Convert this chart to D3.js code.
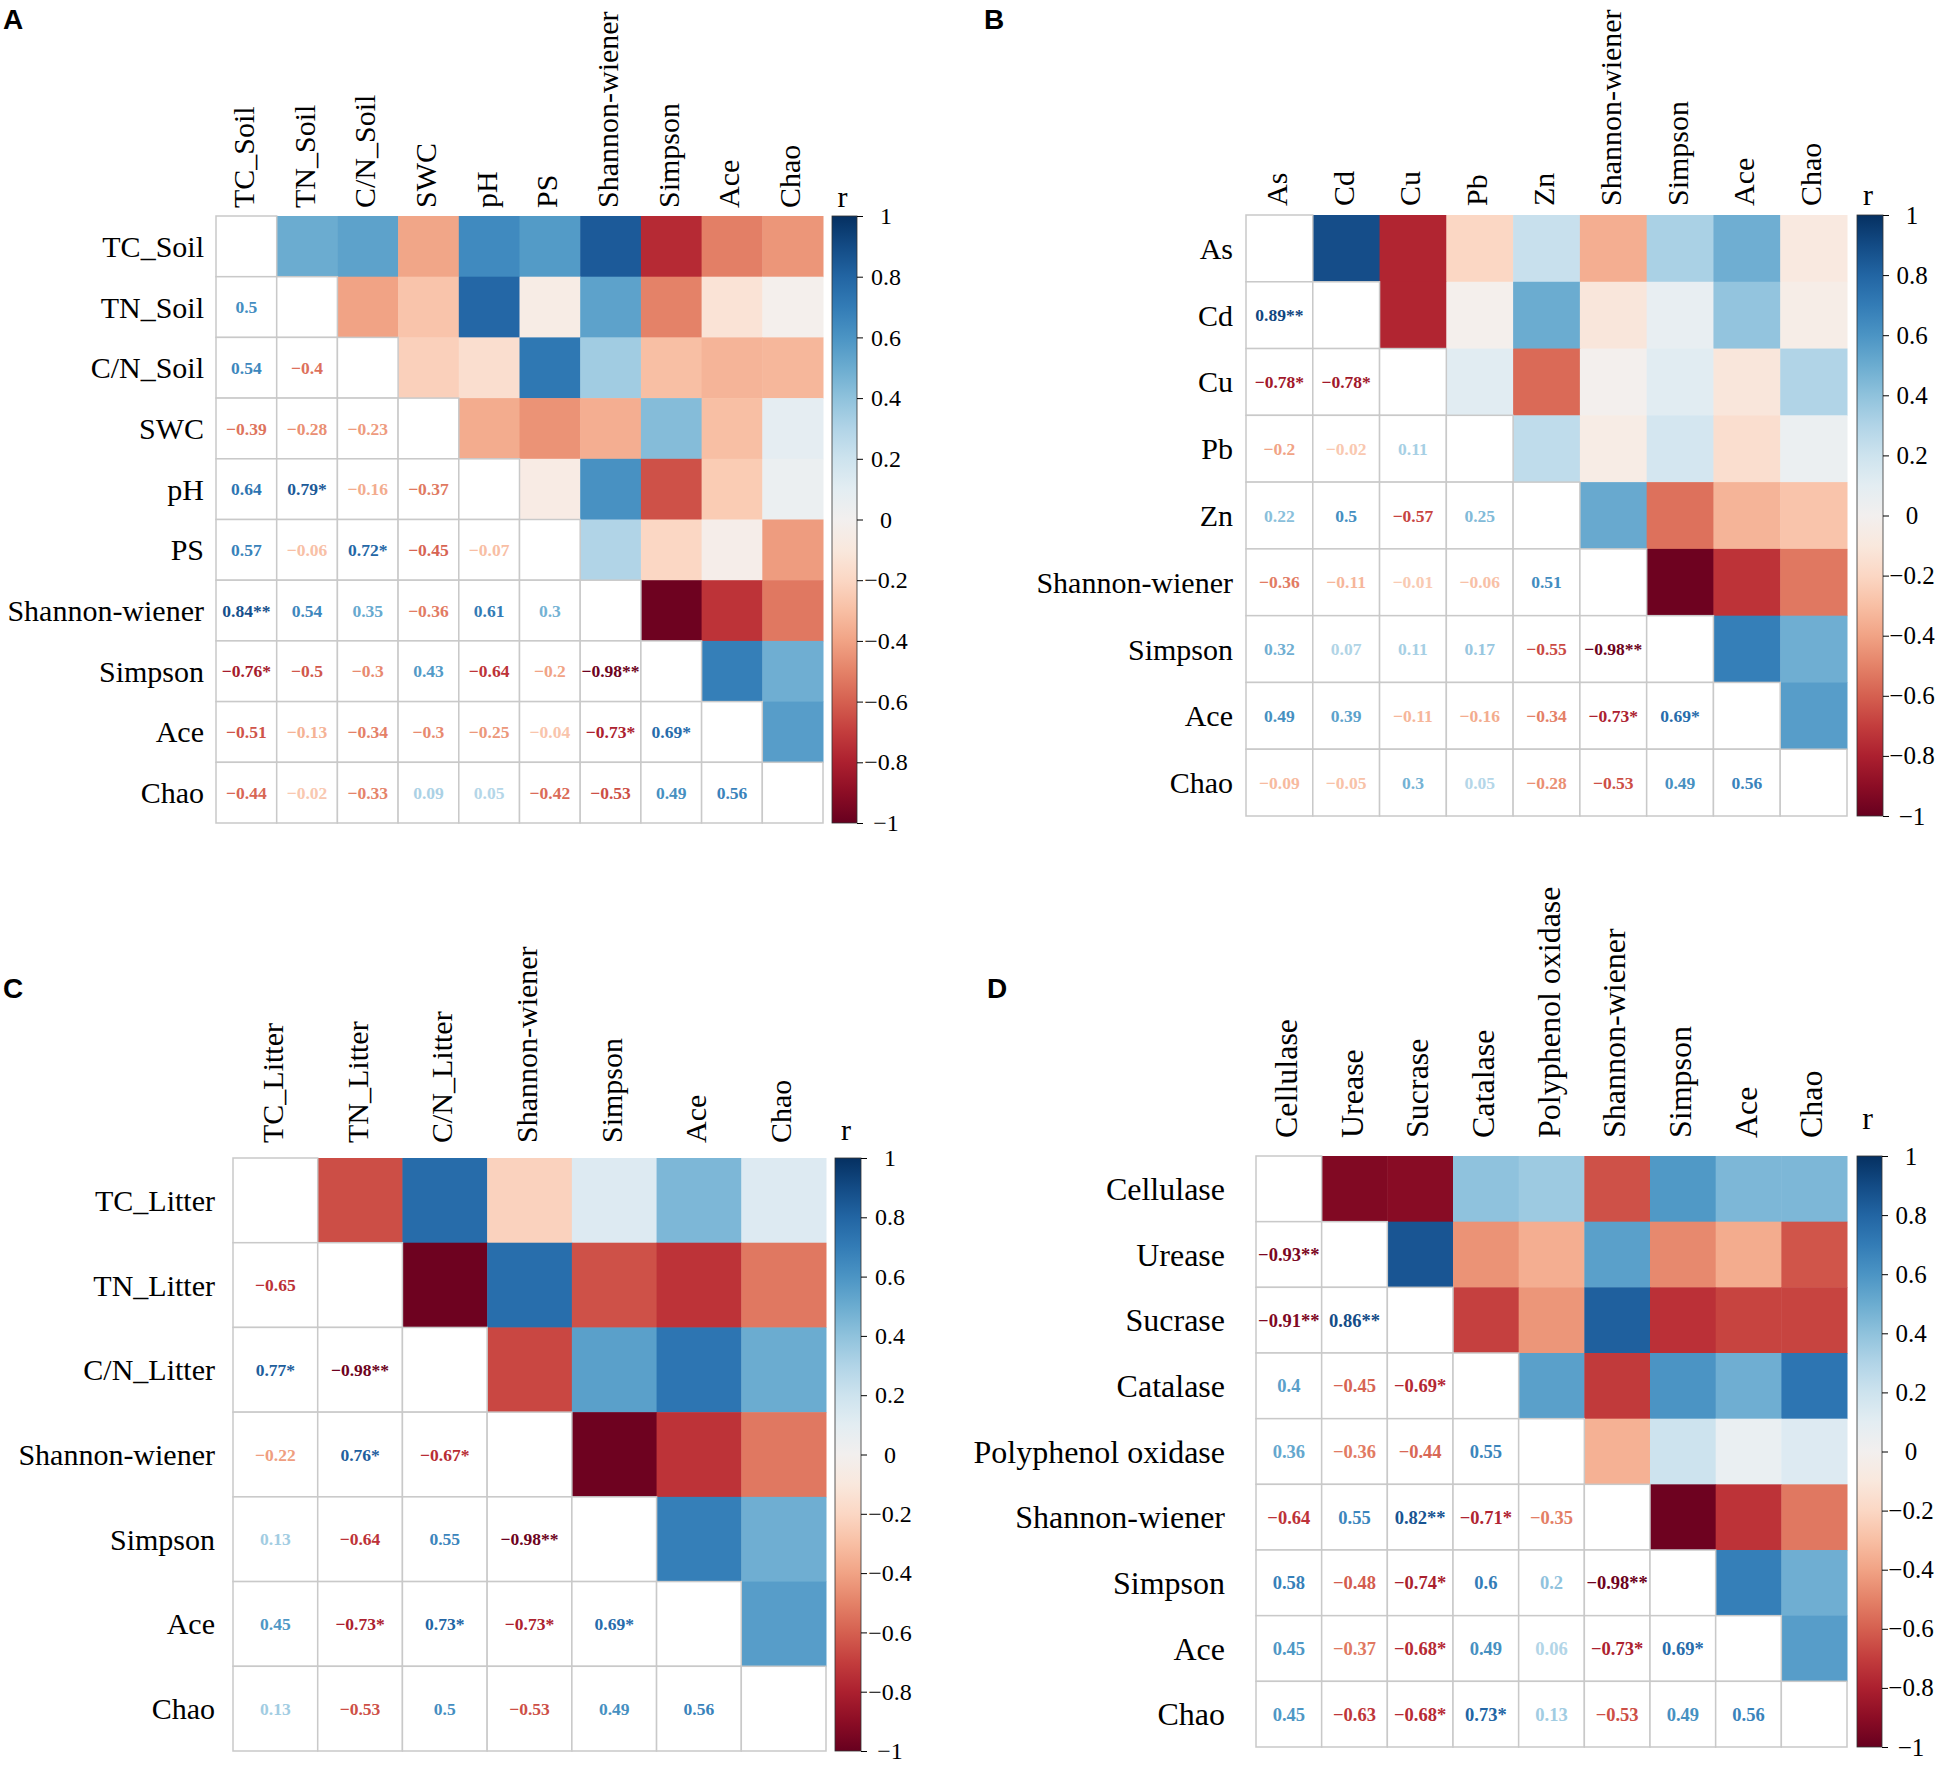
<!DOCTYPE html>
<meta charset="utf-8">
<script src="https://d3js.org/d3.v7.min.js"></script>
<style>
  body { margin: 0; background: #fff; }
  text { font-family: "Liberation Serif", "Times New Roman", serif; }
</style>
<div id="chart"></div>
<script>

// variable names for each panel
var labelsA = ["TC_Soil", "TN_Soil", "C/N_Soil", "SWC", "pH", "PS", "Shannon-wiener", "Simpson", "Ace", "Chao"];
var labelsB = ["As", "Cd", "Cu", "Pb", "Zn", "Shannon-wiener", "Simpson", "Ace", "Chao"];
var labelsC = ["TC_Litter", "TN_Litter", "C/N_Litter", "Shannon-wiener", "Simpson", "Ace", "Chao"];
var labelsD = ["Cellulase", "Urease", "Sucrase", "Catalase", "Polyphenol oxidase", "Shannon-wiener", "Simpson", "Ace", "Chao"];

// lower triangle r values (row i, columns 0..i-1), stars = significance
var lowerA = [
  [],
  ["0.5"],
  ["0.54", "-0.4"],
  ["-0.39", "-0.28", "-0.23"],
  ["0.64", "0.79*", "-0.16", "-0.37"],
  ["0.57", "-0.06", "0.72*", "-0.45", "-0.07"],
  ["0.84**", "0.54", "0.35", "-0.36", "0.61", "0.3"],
  ["-0.76*", "-0.5", "-0.3", "0.43", "-0.64", "-0.2", "-0.98**"],
  ["-0.51", "-0.13", "-0.34", "-0.3", "-0.25", "-0.04", "-0.73*", "0.69*"],
  ["-0.44", "-0.02", "-0.33", "0.09", "0.05", "-0.42", "-0.53", "0.49", "0.56"]
];
var lowerB = [
  [],
  ["0.89**"],
  ["-0.78*", "-0.78*"],
  ["-0.2", "-0.02", "0.11"],
  ["0.22", "0.5", "-0.57", "0.25"],
  ["-0.36", "-0.11", "-0.01", "-0.06", "0.51"],
  ["0.32", "0.07", "0.11", "0.17", "-0.55", "-0.98**"],
  ["0.49", "0.39", "-0.11", "-0.16", "-0.34", "-0.73*", "0.69*"],
  ["-0.09", "-0.05", "0.3", "0.05", "-0.28", "-0.53", "0.49", "0.56"]
];
var lowerC = [
  [],
  ["-0.65"],
  ["0.77*", "-0.98**"],
  ["-0.22", "0.76*", "-0.67*"],
  ["0.13", "-0.64", "0.55", "-0.98**"],
  ["0.45", "-0.73*", "0.73*", "-0.73*", "0.69*"],
  ["0.13", "-0.53", "0.5", "-0.53", "0.49", "0.56"]
];
var lowerD = [
  [],
  ["-0.93**"],
  ["-0.91**", "0.86**"],
  ["0.4", "-0.45", "-0.69*"],
  ["0.36", "-0.36", "-0.44", "0.55"],
  ["-0.64", "0.55", "0.82**", "-0.71*", "-0.35"],
  ["0.58", "-0.48", "-0.74*", "0.6", "0.2", "-0.98**"],
  ["0.45", "-0.37", "-0.68*", "0.49", "0.06", "-0.73*", "0.69*"],
  ["0.45", "-0.63", "-0.68*", "0.73*", "0.13", "-0.53", "0.49", "0.56"]
];

var W = 1950, H = 1768;
var svg = d3.select("#chart").append("svg")
    .attr("width", W)
    .attr("height", H);

var color = d3.scaleSequential(d3.interpolateRdBu).domain([-1, 1]);
// printed numbers are a touch stronger than the squares
function textColor(v) {
  return color(Math.sign(v) * (0.25 + 0.75 * Math.abs(v)));
}

var panels = [
  {id: "A", labels: labelsA, lower: lowerA, left: 216, top: 216, size: 607, cbX: 832, cbW: 25,
   fLab: 30, fNum: 17.5, fTick: 24, colGap: 8, rowGap: 12, rGap: 9, lx: 3, ly: 29},
  {id: "B", labels: labelsB, lower: lowerB, left: 1246, top: 215, size: 601, cbX: 1857, cbW: 26,
   fLab: 30, fNum: 17.5, fTick: 25, colGap: 9, rowGap: 13, rGap: 10, lx: 984, ly: 29},
  {id: "C", labels: labelsC, lower: lowerC, left: 233, top: 1158, size: 593, cbX: 835, cbW: 26,
   fLab: 30, fNum: 17.5, fTick: 24, colGap: 15, rowGap: 18, rGap: 18, lx: 3, ly: 998},
  {id: "D", labels: labelsD, lower: lowerD, left: 1256, top: 1156, size: 591, cbX: 1857, cbW: 25,
   fLab: 32, fNum: 18.5, fTick: 25, colGap: 18, rowGap: 31, rGap: 27, lx: 987, ly: 998}
];

panels.forEach(drawPanel);

function drawPanel(p) {
  var g = svg.append("g");

  var x = d3.scaleBand().domain(p.labels).range([p.left, p.left + p.size]);
  var y = d3.scaleBand().domain(p.labels).range([p.top, p.top + p.size]);

  // full matrix from the lower triangle
  var cells = [];
  p.labels.forEach(function (ri, i) {
    p.labels.forEach(function (cj, j) {
      var txt = i > j ? p.lower[i][j] : (i < j ? p.lower[j][i] : null);
      cells.push({row: ri, col: cj, i: i, j: j, txt: txt, v: txt ? parseFloat(txt) : 1});
    });
  });

  // upper triangle: coloured squares
  g.selectAll(".up")
    .data(cells.filter(function (d) { return d.j > d.i; }))
    .enter().append("rect")
    .attr("x", function (d) { return x(d.col); })
    .attr("y", function (d) { return y(d.row); })
    .attr("width", x.bandwidth() + 0.5)
    .attr("height", y.bandwidth() + 0.5)
    .style("fill", function (d) { return color(d.v); });

  // lower triangle + diagonal: white boxes with grey grid
  g.selectAll(".low")
    .data(cells.filter(function (d) { return d.j <= d.i; }))
    .enter().append("rect")
    .attr("x", function (d) { return x(d.col); })
    .attr("y", function (d) { return y(d.row); })
    .attr("width", x.bandwidth())
    .attr("height", y.bandwidth())
    .style("fill", "#fff")
    .style("stroke", "#c9c9c9")
    .style("stroke-width", 1.5);

  g.selectAll(".num")
    .data(cells.filter(function (d) { return d.j < d.i; }))
    .enter().append("text")
    .attr("x", function (d) { return x(d.col) + x.bandwidth() / 2; })
    .attr("y", function (d) { return y(d.row) + y.bandwidth() / 2; })
    .attr("dy", "0.35em")
    .attr("text-anchor", "middle")
    .style("font-size", p.fNum + "px")
    .style("font-weight", "bold")
    .style("fill", function (d) { return textColor(d.v); })
    .text(function (d) { return d.txt.replace("-", "\u2212"); });

  // row labels
  g.selectAll(".rl")
    .data(p.labels)
    .enter().append("text")
    .attr("x", p.left - p.rowGap)
    .attr("y", function (d) { return y(d) + y.bandwidth() / 2; })
    .attr("dy", "0.35em")
    .attr("text-anchor", "end")
    .style("font-size", p.fLab + "px")
    .text(function (d) { return d; });

  // column labels (rotated)
  g.selectAll(".cl")
    .data(p.labels)
    .enter().append("text")
    .attr("transform", function (d) {
      return "translate(" + (x(d) + x.bandwidth() / 2 - 3) + "," + (p.top - p.colGap) + ") rotate(-90)";
    })
    .attr("dy", "0.35em")
    .attr("text-anchor", "start")
    .style("font-size", p.fLab + "px")
    .text(function (d) { return d; });

  // colour bar
  var gid = "grad" + p.id;
  var grad = svg.append("defs").append("linearGradient")
    .attr("id", gid)
    .attr("x1", "0").attr("y1", "1").attr("x2", "0").attr("y2", "0");
  d3.range(0, 1.0001, 0.05).forEach(function (t) {
    grad.append("stop")
      .attr("offset", (t * 100) + "%")
      .attr("stop-color", color(-1 + 2 * t));
  });
  g.append("rect")
    .attr("x", p.cbX)
    .attr("y", p.top)
    .attr("width", p.cbW)
    .attr("height", p.size)
    .style("fill", "url(#" + gid + ")")
    .style("stroke", "#333")
    .style("stroke-width", 0.8);

  var cb = d3.scaleLinear().domain([-1, 1]).range([p.top + p.size, p.top]);
  var ax = g.append("g")
    .attr("transform", "translate(" + (p.cbX + p.cbW) + ",0)")
    .call(d3.axisRight(cb).ticks(10).tickSize(6).tickFormat(d3.format("~g")))
    .attr("font-family", "'Liberation Serif', serif")
    .attr("font-size", p.fTick);
  ax.select(".domain").remove();
  ax.selectAll("line").style("stroke", "#000");
  ax.selectAll("text")
    .attr("x", 29)
    .attr("text-anchor", "middle")
    .style("font-family", "'Liberation Serif', serif")
    .style("font-size", p.fTick + "px")
    .style("fill", "#000");

  g.append("text")
    .attr("x", p.cbX + p.cbW / 2 - 2)
    .attr("y", p.top - p.rGap)
    .attr("text-anchor", "middle")
    .style("font-size", p.fLab + "px")
    .text("r");

  // panel letter
  svg.append("text")
    .attr("x", p.lx)
    .attr("y", p.ly)
    .style("font-family", "'Liberation Sans', Arial, sans-serif")
    .style("font-weight", "bold")
    .style("font-size", "28px")
    .text(p.id);
}
</script>
